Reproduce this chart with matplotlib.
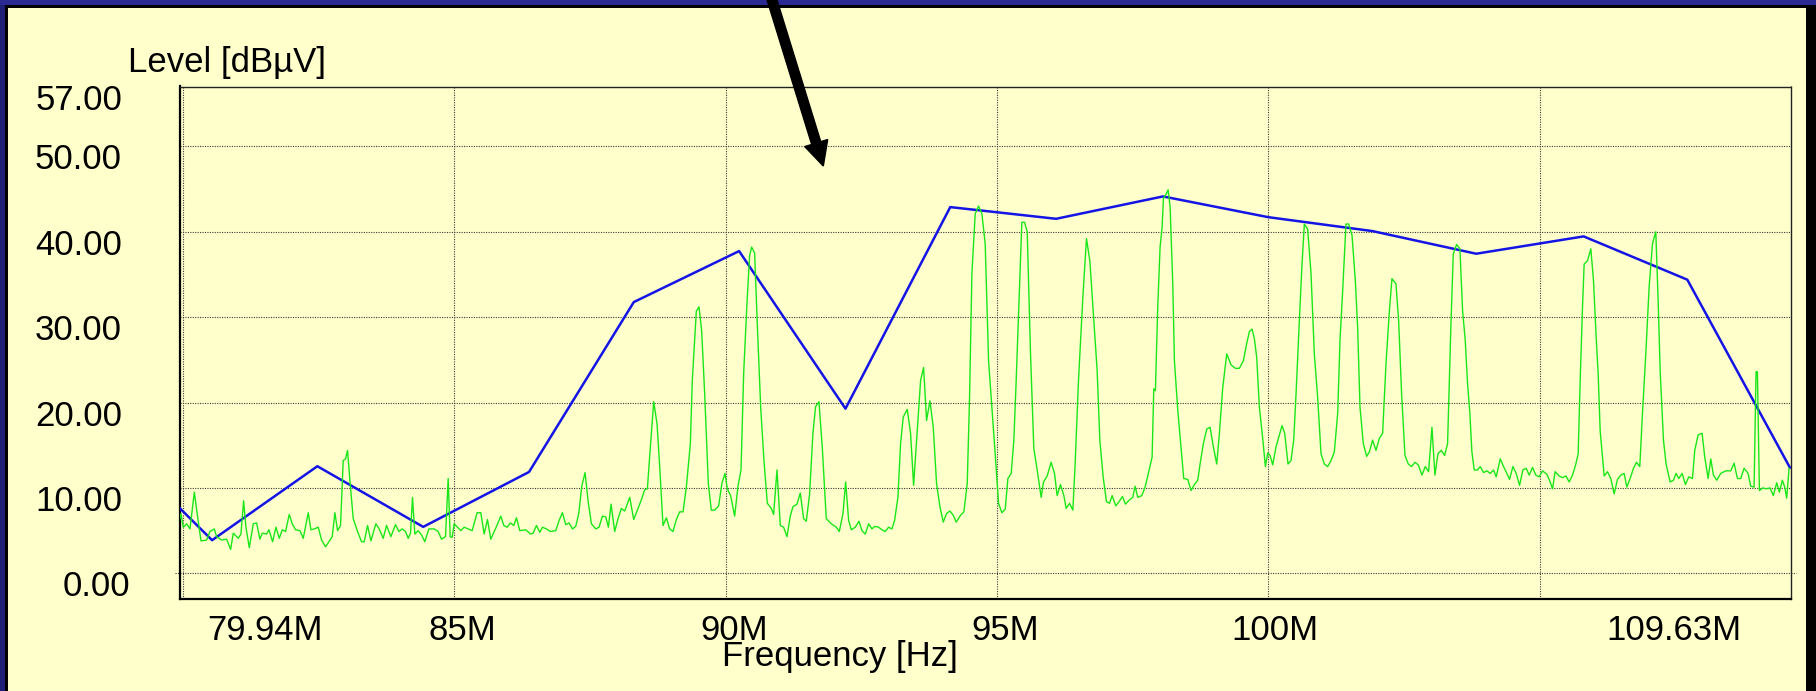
import matplotlib
matplotlib.use("Agg")
import matplotlib.pyplot as plt
from matplotlib.patches import Rectangle, FancyArrow
from matplotlib.transforms import IdentityTransform, ScaledTranslation

# ---------------- data ----------------
limit_freq = [79.94, 80.54, 82.48, 84.43, 86.38, 88.31, 90.25, 92.21, 94.14,
              96.09, 98.06, 100.00, 101.92, 103.83, 105.81, 107.72, 109.61]
limit_level = [7.66, 3.88, 12.54, 5.44, 11.87, 31.76, 37.73, 19.28, 42.88,
               41.51, 44.13, 41.70, 40.07, 37.42, 39.45, 34.38, 12.38]

trace_freq = [
    79.94, 79.967, 80.010, 80.072, 80.133, 80.213, 80.274, 80.336, 80.440, 80.501,
    80.581, 80.624, 80.716, 80.808, 80.882, 80.931, 81.023, 81.072, 81.121, 81.164,
    81.226, 81.299, 81.361, 81.422, 81.465, 81.545, 81.588, 81.655, 81.717, 81.778,
    81.833, 81.895, 81.962, 82.017, 82.079, 82.159, 82.220, 82.312, 82.361, 82.423,
    82.496, 82.558, 82.631, 82.693, 82.754, 82.803, 82.852, 82.907, 82.956, 82.999,
    83.036, 83.079, 83.141, 83.220, 83.294, 83.343, 83.405, 83.466, 83.558, 83.619,
    83.693, 83.754, 83.834, 83.920, 83.981, 84.043, 84.104, 84.153, 84.196, 84.233,
    84.276, 84.337, 84.399, 84.460, 84.534, 84.632, 84.706, 84.767, 84.841, 84.890,
    84.927, 84.963, 85.000, 85.062, 85.123, 85.184, 85.258, 85.332, 85.424, 85.491,
    85.553, 85.614, 85.675, 85.761, 85.859,
    85.915, 85.976, 86.037, 86.099, 86.148, 86.209, 86.320, 86.406, 86.455, 86.516,
    86.578, 86.627, 86.700, 86.774, 86.872, 86.934, 86.995, 87.056, 87.118, 87.179,
    87.240, 87.296, 87.351, 87.412, 87.467, 87.529, 87.609, 87.670, 87.731, 87.793,
    87.842, 87.891, 87.958, 88.020, 88.081, 88.143, 88.235, 88.308, 88.388, 88.449,
    88.511, 88.560, 88.615, 88.677, 88.738, 88.787, 88.848, 88.910, 88.971, 89.033,
    89.094, 89.155, 89.217, 89.278, 89.352, 89.388, 89.462, 89.511, 89.560, 89.616,
    89.683, 89.738, 89.800, 89.873, 89.935, 89.990, 90.033, 90.094, 90.168, 90.229,
    90.285, 90.334, 90.395, 90.444, 90.481, 90.536, 90.585, 90.647, 90.708, 90.770,
    90.843, 90.886, 90.948, 91.009, 91.070, 91.132, 91.193, 91.242, 91.316, 91.377,
    91.439, 91.488, 91.549, 91.610, 91.659, 91.721, 91.782, 91.856,
    91.949, 92.041, 92.096, 92.164, 92.213, 92.268, 92.317, 92.391, 92.458, 92.513,
    92.575, 92.636, 92.698, 92.747, 92.820, 92.882, 92.943, 93.004, 93.066, 93.115,
    93.176, 93.225, 93.274, 93.348, 93.409, 93.465, 93.532, 93.594, 93.649, 93.704,
    93.766, 93.827, 93.888, 93.950, 94.011, 94.072, 94.134, 94.195, 94.250, 94.330,
    94.391, 94.453, 94.496, 94.539, 94.600, 94.662, 94.723, 94.784, 94.846, 94.907,
    94.968, 95.030, 95.091, 95.153, 95.202, 95.263, 95.312, 95.355, 95.404, 95.459,
    95.509, 95.558, 95.619, 95.680, 95.742, 95.815, 95.858, 95.926, 95.999, 96.061,
    96.110, 96.171, 96.233, 96.276, 96.337, 96.399, 96.441, 96.503, 96.583, 96.650,
    96.712, 96.785, 96.846, 96.896, 96.957, 97.018, 97.074, 97.123, 97.190, 97.252,
    97.313, 97.368, 97.442, 97.503, 97.546, 97.595, 97.669, 97.730, 97.779,
    97.859, 97.890, 97.920, 97.963, 98.006, 98.043, 98.068, 98.117, 98.154, 98.191,
    98.240, 98.270, 98.332, 98.405, 98.442, 98.516, 98.577, 98.639, 98.700, 98.743,
    98.804, 98.866, 98.927, 98.988, 99.050, 99.099, 99.160, 99.234, 99.314, 99.393,
    99.467, 99.541, 99.602, 99.651, 99.700, 99.743, 99.786, 99.835, 99.897, 99.946,
    99.989, 100.032, 100.081, 100.142, 100.204, 100.253, 100.302, 100.363, 100.418, 100.468,
    100.511, 100.572, 100.621, 100.664, 100.725, 100.787, 100.848, 100.909, 100.971, 101.032,
    101.094, 101.155, 101.216, 101.278, 101.321, 101.370, 101.431, 101.480, 101.542, 101.603,
    101.646, 101.689, 101.750, 101.812, 101.861, 101.922, 101.984, 102.045, 102.106, 102.168,
    102.229, 102.278, 102.352, 102.401, 102.456, 102.518, 102.579, 102.640, 102.702, 102.763,
    102.831, 102.892, 102.953, 103.015, 103.070, 103.125, 103.186, 103.248, 103.303, 103.365,
    103.408, 103.469, 103.530, 103.579, 103.628, 103.671, 103.714, 103.751, 103.794,
    103.855, 103.904, 103.966, 104.027, 104.089, 104.150, 104.199, 104.273, 104.334, 104.395,
    104.445, 104.506, 104.567, 104.629, 104.690, 104.751, 104.807, 104.868, 104.929, 104.991,
    105.052, 105.132, 105.181, 105.236, 105.285, 105.359, 105.420, 105.482, 105.543, 105.605,
    105.666, 105.709, 105.746, 105.789, 105.819, 105.881, 105.942, 105.991, 106.040, 106.077,
    106.114, 106.188, 106.249, 106.310, 106.372, 106.433, 106.494, 106.556, 106.605, 106.666,
    106.728, 106.783, 106.844, 106.893, 106.955, 107.016, 107.078, 107.139, 107.182, 107.219,
    107.280, 107.329, 107.403, 107.464, 107.513, 107.563, 107.624, 107.685, 107.747, 107.814,
    107.857, 107.918, 107.992, 108.041, 108.103, 108.152, 108.201, 108.262, 108.336, 108.428,
    108.520, 108.581, 108.643, 108.704, 108.765, 108.839, 108.888, 108.950, 108.986, 109.011,
    109.048, 109.109, 109.171, 109.244, 109.305, 109.367, 109.416, 109.471, 109.514, 109.551,
    109.594,
]
trace_level = [
    6.2, 7.0, 5.4, 5.8, 5.2, 9.5, 6.6, 3.8, 3.9, 4.9,
    5.2, 4.3, 3.9, 4.0, 2.8, 4.7, 4.1, 4.6, 8.5, 5.4,
    3.0, 5.8, 5.9, 4.0, 4.7, 4.6, 5.1, 3.7, 5.4, 4.1,
    5.1, 4.9, 6.9, 5.8, 5.1, 5.0, 4.1, 7.1, 5.1, 5.2,
    5.4, 3.9, 3.1, 3.7, 4.3, 7.1, 5.0, 5.6, 13.2, 13.4,
    14.4, 10.9, 6.4, 4.9, 3.7, 3.7, 5.6, 3.8, 5.8, 5.2,
    4.1, 5.6, 4.3, 5.7, 4.9, 5.2, 4.9, 4.1, 4.7, 8.9,
    4.6, 5.0, 4.5, 3.7, 5.2, 5.2, 4.9, 4.0, 4.3, 11.1,
    4.3, 4.2, 5.8, 5.4, 5.0, 5.4, 5.2, 5.0, 7.1, 7.1,
    4.6, 6.3, 4.0, 5.2, 6.7,
    5.6, 5.4, 5.9, 5.6, 6.5, 5.0, 5.1, 4.6, 4.7, 5.6,
    4.8, 5.4, 5.2, 4.9, 5.0, 6.2, 7.1, 5.7, 5.9, 5.2,
    5.5, 7.0, 10.2, 11.8, 8.5, 5.8, 5.2, 5.4, 6.7, 6.6,
    5.4, 8.1, 4.9, 6.4, 7.6, 7.3, 8.9, 6.3, 7.6, 8.6,
    9.8, 9.9, 14.8, 20.1, 17.5, 12.5, 5.6, 6.5, 5.2, 4.9,
    6.3, 7.2, 7.2, 10.1, 15.2, 22.6, 30.7, 31.2, 28.4, 21.0,
    10.5, 7.4, 7.4, 7.9, 10.6, 11.7, 9.9, 9.1, 6.7, 10.2,
    12.1, 23.4, 31.6, 37.2, 38.2, 37.5, 29.2, 19.5, 13.2, 8.2,
    7.6, 6.9, 12.1, 5.6, 5.4, 4.3, 6.7, 7.8, 8.1, 9.4,
    6.4, 6.1, 9.3, 16.4, 19.5, 20.1, 14.8, 6.4,
    5.8, 5.4, 4.9, 7.0, 10.7, 6.2, 5.1, 5.4, 6.1, 5.0,
    4.6, 5.8, 5.2, 5.5, 5.4, 5.1, 4.9, 5.4, 5.2, 6.2,
    8.9, 15.2, 18.3, 19.2, 16.4, 10.3, 16.7, 22.6, 24.1, 17.9,
    20.2, 17.1, 10.5, 7.8, 6.0, 7.0, 7.3, 6.8, 6.0, 6.8,
    7.2, 10.5, 20.6, 35.1, 42.1, 43.0, 42.1, 38.6, 24.9, 19.5,
    14.0, 8.2, 7.1, 7.5, 11.1, 11.7, 15.6, 22.6, 31.2, 41.1,
    41.1, 40.0, 25.7, 14.6, 12.1, 8.9, 10.7, 11.4, 13.0, 11.7,
    9.1, 10.4, 9.1, 7.6, 8.2, 7.4, 12.8, 22.6, 32.3, 39.2,
    36.6, 29.6, 23.8, 15.6, 11.3, 8.4, 8.2, 9.1, 7.9, 8.4,
    9.0, 8.1, 8.6, 8.9, 10.2, 8.9, 9.1, 10.1, 11.4,
    13.6, 21.6, 21.4, 31.2, 38.2, 40.5, 43.9, 44.4, 44.9, 42.9,
    33.9, 24.9, 19.1, 13.8, 11.1, 11.0, 9.7, 10.4, 10.9, 12.8,
    15.2, 16.9, 17.1, 14.8, 12.8, 16.4, 21.7, 25.7, 24.4, 24.0,
    24.0, 24.9, 26.9, 28.3, 28.6, 27.5, 25.3, 19.5, 15.8, 12.5,
    14.1, 13.8, 12.7, 14.8, 16.2, 17.3, 16.4, 12.8, 13.2, 15.6,
    21.0, 29.6, 36.2, 40.9, 40.3, 35.1, 25.7, 20.6, 14.0, 12.8,
    12.5, 13.2, 14.2, 18.7, 27.3, 33.1, 40.9, 40.9, 39.6, 34.3,
    28.8, 19.5, 15.2, 13.7, 14.2, 15.6, 14.4, 15.8, 16.4, 24.5,
    30.6, 34.5, 33.9, 29.6, 21.0, 13.8, 12.8, 12.5, 13.0, 12.7,
    11.5, 12.5, 11.9, 17.1, 11.5, 14.0, 14.4, 13.8, 15.2, 29.2,
    37.4, 38.5, 38.0, 30.8, 27.3, 22.2, 18.7, 14.2, 12.1,
    12.1, 12.5, 11.8, 12.0, 11.7, 12.1, 11.3, 13.4, 12.5, 11.7,
    11.0, 12.5, 11.7, 10.3, 12.1, 12.3, 11.5, 12.4, 11.5, 11.3,
    12.0, 11.6, 10.9, 9.9, 11.9, 11.4, 11.2, 11.4, 10.7, 11.5,
    12.8, 14.0, 22.6, 31.2, 36.2, 36.6, 38.0, 34.3, 27.7, 23.4,
    16.7, 11.4, 11.9, 11.1, 9.3, 11.0, 11.5, 11.7, 10.1, 11.1,
    12.3, 13.0, 12.5, 18.7, 25.7, 33.5, 38.6, 40.0, 32.0, 23.8,
    15.6, 12.8, 10.7, 10.9, 11.7, 11.1, 11.7, 10.4, 11.3, 11.1,
    14.4, 16.2, 16.4, 13.6, 11.1, 13.4, 11.5, 10.9, 11.7, 12.0,
    12.0, 12.9, 11.1, 11.1, 12.3, 11.7, 10.2, 10.1, 23.6, 23.6,
    9.7, 10.0, 9.9, 10.0, 9.1, 10.6, 9.5, 10.9, 10.1, 8.8,
    12.3,
]

y_ticks = [0, 10, 20, 30, 40, 50, 57]
y_tick_labels = ["0.00", "10.00", "20.00", "30.00", "40.00", "50.00", "57.00"]
x_grid = [80, 85, 90, 95, 100, 105]
x_ticks = [79.94, 85, 90, 95, 100, 109.63]
x_tick_labels = ["79.94M", "85M", "90M", "95M", "100M", "109.63M"]

# ---------------- style / layout ----------------
W, H, DPI = 1816, 691, 100
BG = "#FFFFCC"
FS = 25
plt.rcParams["font.family"] = ["Liberation Sans", "DejaVu Sans"]

fig = plt.figure(figsize=(W / DPI, H / DPI), dpi=DPI, facecolor=BG)

# window frame (pixels, origin bottom-left)
frame = [
    ((0, 0), 5, H, "#1F1F78"),
    ((5, 0), 3, H - 5, "black"),
    ((0, H - 5), W, 5, "#2A2A92"),
    ((5, H - 8), W - 5, 3, "black"),
    ((1806, 0), 10, H - 5, "black"),
]
for xy, w, h, c in frame:
    fig.add_artist(Rectangle(xy, w, h, facecolor=c, edgecolor="none",
                             transform=IdentityTransform(), zorder=1))

L, R, T, B = 179.5, 1791.0, 86.5, 599.3
ax = fig.add_axes([L / W, (H - B) / H, (R - L) / W, (B - T) / H])
ax.set_facecolor("none")
ax.set_xlim(79.94, 109.63)
ax.set_ylim(-3.04, 57)

grid_kw = dict(color="#3a3a3a", lw=0.8, ls=(0, (1, 1.2)), zorder=1)
for g in x_grid:
    ax.axvline(g, **grid_kw)
for v in y_ticks[1:-1]:
    ax.axhline(v, **grid_kw)
ax.axhline(0, xmin=-0.003, xmax=1.003, clip_on=False, **grid_kw)

ax.plot(limit_freq, limit_level, color="#1414E6", lw=1.8, zorder=3)
ax.plot(trace_freq, trace_level, color="#19E619", lw=1.0, zorder=4)

for s in ("left", "bottom"):
    ax.spines[s].set_linewidth(1.6)
    ax.spines[s].set_color("black")
for s in ("top", "right"):
    ax.spines[s].set_linewidth(1.0)
    ax.spines[s].set_linestyle((0, (1.5, 1)))
    ax.spines[s].set_color("#222222")

ax.set_xticks([])
ax.set_yticks([])

# y labels (right aligned, baseline slightly below gridline)
for v, lab in zip(y_ticks, y_tick_labels):
    dx = 8 if v == 0 else 0
    tr = ax.get_yaxis_transform() + ScaledTranslation((-57.5 + dx) / DPI, -23 / DPI,
                                                       fig.dpi_scale_trans)
    ax.text(0, v, lab, transform=tr, ha="right", va="baseline", fontsize=FS,
            clip_on=False)

# x labels
x_label_dx = [85.5, 8.4, 8.3, 8.1, 6.2, -117]
for f, lab, dx in zip(x_ticks, x_tick_labels, x_label_dx):
    tr = ax.get_xaxis_transform() + ScaledTranslation(dx / DPI, -40.7 / DPI,
                                                      fig.dpi_scale_trans)
    ax.text(f, 0, lab, transform=tr, ha="center", va="baseline", fontsize=FS,
            clip_on=False)

ax.set_xlabel("Frequency [Hz]", fontsize=FS, va="baseline")
ax.xaxis.set_label_coords((840 - L) / (R - L), -(666 - B) / (B - T))
ax.set_ylabel("Level [dB\u00b5V]", fontsize=FS, rotation=0, ha="center", va="baseline")
ax.yaxis.set_label_coords((227.5 - L) / (R - L), (B - 71.7) / (B - T))

# pointer arrow
tail_x, tail_y = 770.5, H + 5
tip_x, tip_y = 823.3, H - 166
fig.add_artist(FancyArrow(tail_x, tail_y, tip_x - tail_x, tip_y - tail_y,
                          width=9.5, head_width=24, head_length=24,
                          length_includes_head=True, color="black",
                          transform=IdentityTransform(), zorder=10))

fig.savefig("out.png", dpi=DPI, facecolor=BG)
